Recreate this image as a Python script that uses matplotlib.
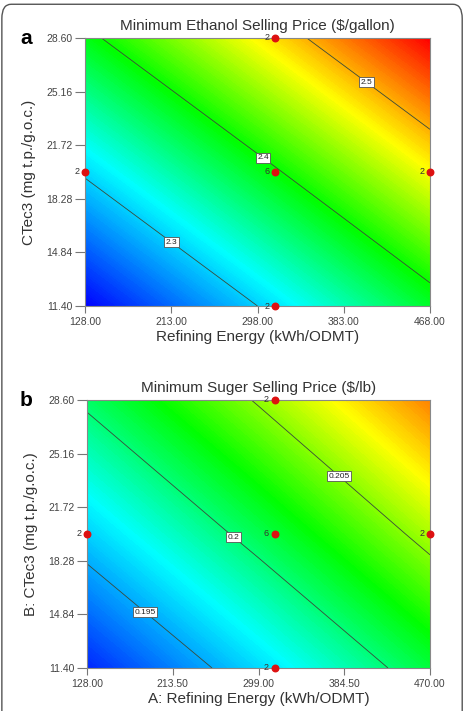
import numpy as np
import matplotlib.pyplot as plt
from matplotlib.colors import LinearSegmentedColormap
from matplotlib.patches import FancyBboxPatch

plt.rcParams['font.family'] = ['Liberation Sans', 'DejaVu Sans']

# Dados
# Painel a: preco minimo do etanol
energia_a = [128.0, 298.0, 468.0]
ctec_a = [11.4, 20.0, 28.6]
etanol = [[2.216, 2.300, 2.385],
          [2.304, 2.388, 2.472],
          [2.392, 2.476, 2.560]]
niveis_a = [2.3, 2.4, 2.5]
xticks_a = [128.00, 213.00, 298.00, 383.00, 468.00]

# Painel b: preco minimo do acucar
energia_b = [128.0, 299.0, 470.0]
ctec_b = [11.4, 20.0, 28.6]
acucar = [[0.1915, 0.1963, 0.2012],
          [0.1960, 0.2008, 0.2057],
          [0.2004, 0.2052, 0.2101]]
niveis_b = [0.195, 0.2, 0.205]
xticks_b = [128.00, 213.50, 299.00, 384.50, 470.00]

yticks = [11.40, 14.84, 18.28, 21.72, 25.16, 28.60]

# Pontos do planejamento (energia, ctec, repeticoes)
pontos_a_x = [128.0, 315.0, 315.0, 315.0, 468.0]
pontos_b_x = [128.0, 315.0, 315.0, 315.0, 470.0]
pontos_y = [20.0, 11.4, 20.0, 28.6, 20.0]
pontos_n = ['2', '2', '6', '2', '2']

cmap = LinearSegmentedColormap.from_list(
    'de', [(0.0, '#0000ff'), (0.3, '#00ffff'), (0.53, '#00ff00'),
           (0.75, '#ffff00'), (1.0, '#ff0000')])

W, H = 465, 711
fig = plt.figure(figsize=(W / 100, H / 100), dpi=100)

borda = FancyBboxPatch((0.004, -0.05), 0.99, 1.044,
                       boxstyle='round,pad=0,rounding_size=0.02',
                       transform=fig.transFigure, fill=False,
                       edgecolor='#555555', linewidth=1.0)
fig.patches.append(borda)


def painel(rect, xs, ys, z, niveis, vmin, vmax, xticks, px, titulo,
           xlabel, ylabel, letra, pos_rotulos):
    ax = fig.add_axes(rect)
    X, Y = np.meshgrid(xs, ys)
    Z = np.array(z)
    ax.contourf(X, Y, Z, levels=np.linspace(vmin, vmax, 200), cmap=cmap,
                vmin=vmin, vmax=vmax, extend='both')
    cs = ax.contour(X, Y, Z, levels=niveis, colors='#3a4a3a', linewidths=0.6)
    txts = ax.clabel(cs, fmt=lambda v: f'{v:g}', fontsize=6, inline=False,
                     manual=pos_rotulos, colors='#222222')
    for t in txts:
        t.set_rotation(0)
        t.set_bbox(dict(facecolor='white', edgecolor='#555555',
                        linewidth=0.6, pad=1.0))
    ax.scatter(px, pontos_y, s=22, color='#dd1111', zorder=5, clip_on=False,
               marker='o')
    for xx, yy, n in zip(px, pontos_y, pontos_n):
        ax.annotate(n, (xx, yy), xytext=(-4, 0), textcoords='offset points',
                    ha='right', va='center', fontsize=6.5, color='#333333',
                    zorder=6, annotation_clip=False)
    ax.set_xlim(xs[0], xs[-1])
    ax.set_ylim(ys[0], ys[-1])
    ax.set_xticks(xticks)
    ax.set_xticklabels([f'{v:.2f}' for v in xticks])
    ax.set_yticks(yticks)
    ax.set_yticklabels([f'{v:.2f}' for v in yticks])
    ax.tick_params(axis='both', labelsize=7.5, colors='#777777',
                   labelcolor='#444444', width=0.8, direction='out')
    ax.tick_params(axis='y', length=7, pad=2)
    ax.tick_params(axis='x', length=5, pad=3)
    for s in ax.spines.values():
        s.set_color('#888888')
        s.set_linewidth(0.8)
    ax.set_title(titulo, fontsize=11, color='#333333', pad=6)
    ax.set_xlabel(xlabel, fontsize=11, color='#333333', labelpad=2)
    ax.set_ylabel(ylabel, fontsize=11, color='#333333', labelpad=7)
    fig.text(20 / W, rect[1] + rect[3] - 1 / H, letra, fontsize=15,
             fontweight='bold', ha='left', va='center')
    return ax


painel([85 / W, 1 - 306 / H, 345 / W, 268 / H], energia_a, ctec_a, etanol,
       niveis_a, 2.216, 2.560, xticks_a, pontos_a_x,
       'Minimum Ethanol Selling Price ($/gallon)',
       'Refining Energy (kWh/ODMT)', 'CTec3 (mg t.p./g.o.c.)', 'a',
       [(405.9, 25.78), (306.4, 21.16), (217.7, 15.89)])

painel([87 / W, 1 - 668 / H, 343 / W, 268 / H], energia_b, ctec_b, acucar,
       niveis_b, 0.1905, 0.2130, xticks_b, pontos_b_x,
       'Minimum Suger Selling Price ($/lb)',
       'A: Refining Energy (kWh/ODMT)', 'B: CTec3 (mg t.p./g.o.c.)', 'b',
       [(382.2, 23.91), (277.6, 20.06), (187.8, 15.12)])

fig.savefig('out.png', dpi=100)
plt.close(fig)
